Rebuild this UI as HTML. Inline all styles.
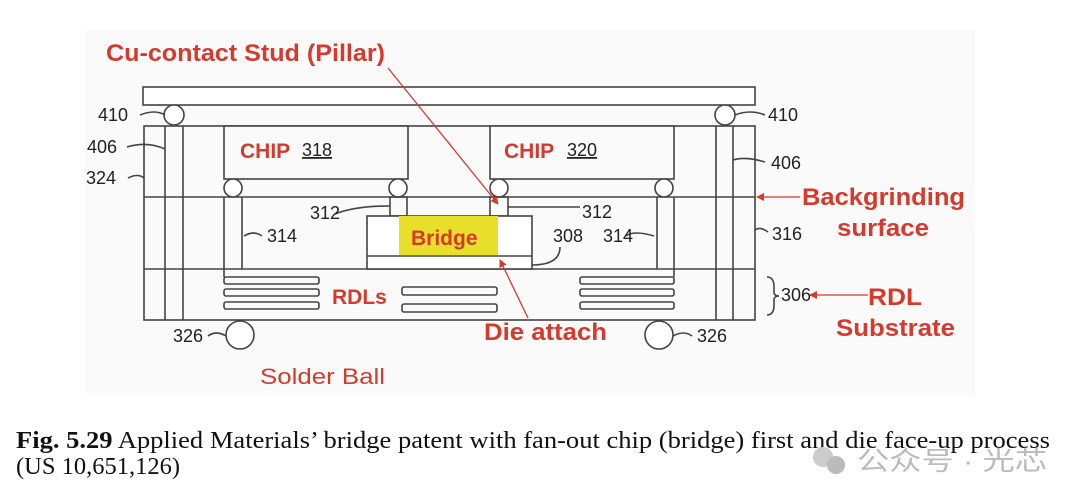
<!DOCTYPE html>
<html><head><meta charset="utf-8"><style>
html,body{margin:0;padding:0;background:#fff;width:1080px;height:500px;overflow:hidden}
svg{display:block}
.r{fill:#d63a2c;font-family:"Liberation Sans",sans-serif;font-weight:bold}
.n{fill:#222;font-family:"Liberation Sans",sans-serif;font-size:18px}
.cap{font-family:"Liberation Serif",serif;font-size:24.5px;fill:#111}
</style></head><body>
<svg width="1080" height="500" viewBox="0 0 1080 500">
<defs><marker id="a" markerWidth="8" markerHeight="8" refX="7" refY="4" orient="auto" markerUnits="userSpaceOnUse"><path d="M0,0 L8,4 L0,8z" fill="#d63a2c"/></marker></defs>
<rect x="85" y="30" width="890" height="365" fill="#fafafa"/>
<g fill="none" stroke="#444" stroke-width="1.6">
<rect x="143" y="87" width="612" height="18" fill="#fff"/>
<rect x="144" y="126" width="611" height="194"/>
<line x1="144" y1="197" x2="755" y2="197"/>
<line x1="144" y1="269" x2="755" y2="269"/>
<line x1="165" y1="126" x2="165" y2="320"/><line x1="183" y1="126" x2="183" y2="320"/>
<line x1="716" y1="126" x2="716" y2="320"/><line x1="733" y1="126" x2="733" y2="320"/>
<rect x="224" y="126" width="184" height="53" fill="#fafafa"/>
<rect x="490" y="126" width="184" height="53" fill="#fafafa"/>
<circle cx="174" cy="115" r="10" fill="#fff"/><circle cx="725" cy="115" r="10" fill="#fff"/>
<circle cx="233" cy="188" r="9" fill="#fff"/><circle cx="398" cy="188" r="9" fill="#fff"/>
<circle cx="499" cy="188" r="9" fill="#fff"/><circle cx="664" cy="188" r="9" fill="#fff"/>
<line x1="224" y1="197" x2="224" y2="277"/><line x1="242" y1="197" x2="242" y2="269"/>
<line x1="657" y1="197" x2="657" y2="269"/><line x1="674" y1="197" x2="674" y2="277"/>
<rect x="390" y="197" width="17" height="19"/><rect x="490" y="197" width="18" height="19"/>
<rect x="367" y="216" width="165" height="53" fill="#fff"/>
<line x1="367" y1="256" x2="532" y2="256"/>
<rect x="224" y="277" width="95" height="7" rx="2"/><rect x="224" y="289" width="95" height="7" rx="2"/><rect x="224" y="302" width="95" height="7" rx="2"/>
<rect x="402" y="287" width="95" height="8" rx="2"/><rect x="402" y="304" width="95" height="8" rx="2"/>
<rect x="580" y="277" width="94" height="7" rx="2"/><rect x="580" y="289" width="94" height="7" rx="2"/><rect x="580" y="302" width="94" height="7" rx="2"/>
<circle cx="240" cy="335" r="14" fill="#fff"/><circle cx="659" cy="335" r="14" fill="#fff"/>
<path d="M140,115 q15,-6 25,0 M127,147 q20,-6 38,2 M128,178 q10,-5 16,0 M262,236 q-8,-6 -18,0 M335,214 q20,-8 55,-8 M580,207 q-40,0 -72,0 M626,236 q8,-6 28,0 M765,115 q-15,-6 -30,0 M765,162 q-20,-6 -32,-2 M768,232 q-8,-6 -13,-2 M560,247 q0,18 -28,18 M208,336 q8,-6 18,0 M692,336 q-8,-6 -19,0 M767,277 q7,0 7,10 v5 q0,4 5,4 q-5,0 -5,4 v5 q0,10 -7,10"/>
</g>
<rect x="399" y="216" width="99" height="39" fill="#e8df2a"/>
<g fill="none" stroke="#d63a2c" stroke-width="1.3">
<line x1="388" y1="68" x2="498" y2="204" marker-end="url(#a)"/>
<line x1="528" y1="318" x2="500" y2="260" marker-end="url(#a)"/>
<line x1="800" y1="197" x2="757" y2="197" marker-end="url(#a)"/>
<line x1="868" y1="295" x2="810" y2="295" marker-end="url(#a)"/>
</g>
<text class="r" x="106" y="61" font-size="24" textLength="279" lengthAdjust="spacingAndGlyphs">Cu-contact Stud (Pillar)</text>
<text class="r" x="240" y="158" font-size="21">CHIP</text><text class="n" x="302" y="156" text-decoration="underline">318</text>
<text class="r" x="504" y="158" font-size="21">CHIP</text><text class="n" x="567" y="156" text-decoration="underline">320</text>
<text class="r" x="411" y="245" font-size="21">Bridge</text>
<text class="r" x="332" y="304" font-size="21">RDLs</text>
<text class="r" x="484" y="340" font-size="24" textLength="123" lengthAdjust="spacingAndGlyphs">Die attach</text>
<text class="r" x="802" y="205" font-size="24" textLength="163" lengthAdjust="spacingAndGlyphs">Backgrinding</text>
<text class="r" x="837" y="236" font-size="24" textLength="92" lengthAdjust="spacingAndGlyphs">surface</text>
<text class="r" x="868" y="305" font-size="24" textLength="54" lengthAdjust="spacingAndGlyphs">RDL</text>
<text class="r" x="836" y="336" font-size="24" textLength="119" lengthAdjust="spacingAndGlyphs">Substrate</text>
<text x="260" y="384" font-size="22" fill="#d63a2c" font-family="Liberation Sans,sans-serif" textLength="125" lengthAdjust="spacingAndGlyphs">Solder Ball</text>
<g class="n">
<text x="98" y="121">410</text><text x="87" y="153">406</text><text x="86" y="184">324</text>
<text x="267" y="242">314</text><text x="310" y="219">312</text><text x="582" y="218">312</text>
<text x="553" y="242">308</text><text x="603" y="242">314</text>
<text x="768" y="121">410</text><text x="771" y="169">406</text><text x="772" y="240">316</text>
<text x="781" y="301">306</text>
<text x="173" y="342">326</text><text x="697" y="342">326</text>
</g>
<text class="cap" x="16" y="448" textLength="1034" lengthAdjust="spacingAndGlyphs"><tspan font-weight="bold">Fig. 5.29</tspan>   Applied Materials’ bridge patent with fan-out chip (bridge) first and die face-up process</text>
<text class="cap" x="16" y="474">(US 10,651,126)</text>
<text x="857" y="470" font-size="26" fill="#bbb" font-family="Liberation Sans,Noto Sans CJK SC,sans-serif" textLength="190" lengthAdjust="spacingAndGlyphs">公众号 · 光芯</text>
<circle cx="823" cy="457" r="10" fill="#ccc"/><circle cx="836" cy="465" r="9" fill="#bbb"/>
</svg>
</body></html>
